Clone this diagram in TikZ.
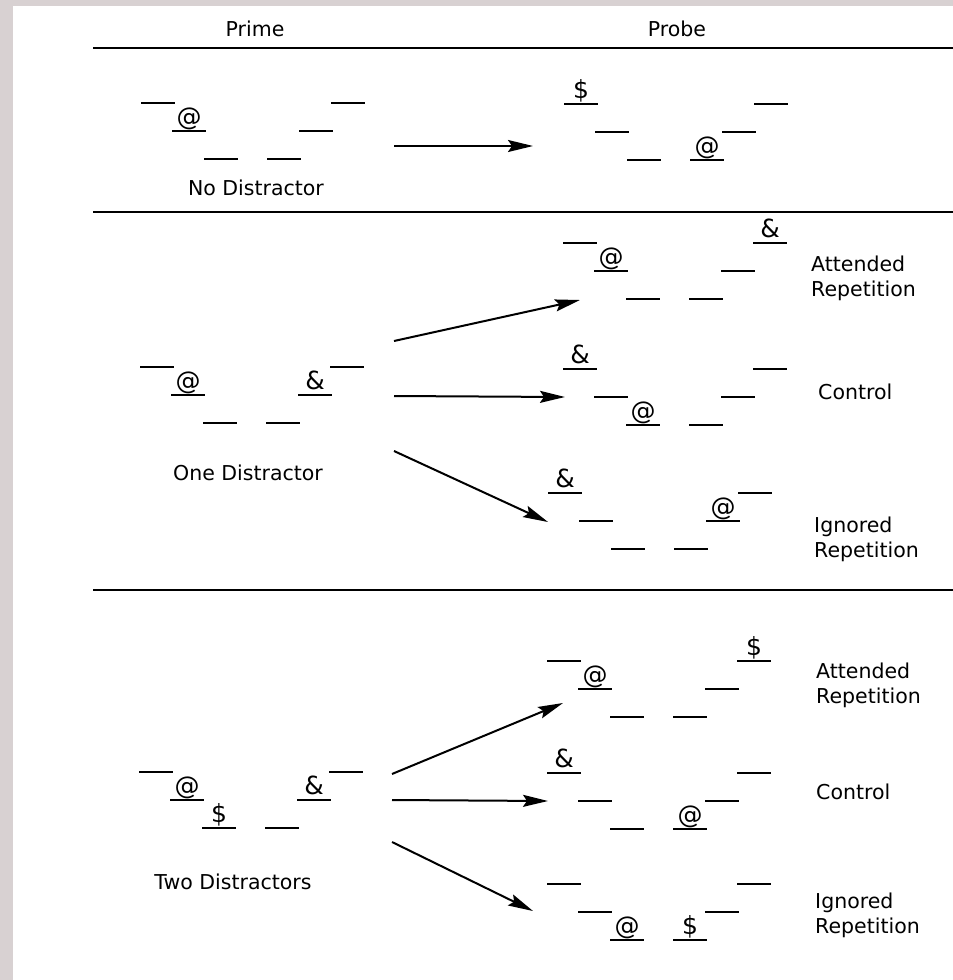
\documentclass[tikz,border=0pt]{standalone}
\usepackage{fontspec}
\setmainfont{DejaVu Sans}
\usetikzlibrary{arrows.meta,positioning}
\definecolor{framegray}{RGB}{216,209,210}

% one stimulus display: name, x and y of the first slot, then the six slot symbols
\newcommand{\display}[9]{%
  \foreach \dx/\dy/\ch [count=\i] in {0/0/{#4},31/28/{#5},63/56/{#6},126/56/{#7},158/28/{#8},190/0/{#9}}{%
    \draw[slotline] (#2+\dx,#3+\dy) -- ++(34,0);
    \node[symb] (#1-\i) at (#2+\dx+17,#3+\dy-6) {\ch};
  }}

\begin{document}
\begin{tikzpicture}[x=1pt,y=-1pt]
        \tikzstyle{slotline}=[line width=2pt]
        \tikzstyle{symb}=[anchor=base, inner sep=0pt, font=\fontsize{25}{25}\selectfont]
        \tikzstyle{lbl}=[inner sep=0pt, font=\fontsize{20.5}{25}\selectfont]
        \tikzstyle{sep}=[line width=1.4pt]
        \tikzstyle{arr}=[line width=2pt, -{Stealth[length=25pt,width=12pt,inset=4pt]}]
        \useasboundingbox (0,0) rectangle (953,980);
        \fill[framegray] (0,0) rectangle (953,980);
        \fill[white] (13,6) rectangle (953,980);
        % headers and separators
        \node[lbl] (prime) at (255,29) {Prime};
        \node[lbl] (probe) at (677,29) {Probe};
        \draw[sep] (93,48) -- (953,48);
        \draw[sep] (93,212) -- (953,212);
        \draw[sep] (93,590) -- (953,590);
        % no distractor
        \display{pa}{141}{103}{}{@}{}{}{}{}
        \display{qa}{564}{104}{\$}{}{}{@}{}{}
        \node[lbl] (nodis) at (256,188) {No Distractor};
        \coordinate (a1s) at (394,146);
        \coordinate (a1e) at (533,146);
        \draw[arr] (a1s) -- (a1e);
        % one distractor
        \display{pb}{140}{367}{}{@}{}{}{\&}{}
        \display{qb1}{563}{243}{}{@}{}{}{}{\&}
        \display{qb2}{563}{369}{\&}{}{@}{}{}{}
        \display{qb3}{548}{493}{\&}{}{}{}{@}{}
        \node[lbl] (onedis) at (248,473) {One Distractor};
        \node[lbl, anchor=west, align=left] (att1) at (811,278) {Attended\\Repetition};
        \node[lbl, anchor=west] (con1) at (818,392) {Control};
        \node[lbl, anchor=west, align=left] (ign1) at (814,539) {Ignored\\Repetition};
        \coordinate (b1s) at (394,341);
        \coordinate (b1e) at (580,300);
        \coordinate (b2s) at (394,396);
        \coordinate (b2e) at (565,397);
        \coordinate (b3s) at (394,451);
        \coordinate (b3e) at (548,522);
        \draw[arr] (b1s) -- (b1e);
        \draw[arr] (b2s) -- (b2e);
        \draw[arr] (b3s) -- (b3e);
        % two distractors
        \display{pc}{139}{772}{}{@}{\$}{}{\&}{}
        \display{qc1}{547}{661}{}{@}{}{}{}{\$}
        \display{qc2}{547}{773}{\&}{}{}{@}{}{}
        \display{qc3}{547}{884}{}{}{@}{\$}{}{}
        \node[lbl] (twodis) at (233,882) {Two Distractors};
        \node[lbl, anchor=west, align=left] (att2) at (816,685) {Attended\\Repetition};
        \node[lbl, anchor=west] (con2) at (816,792) {Control};
        \node[lbl, anchor=west, align=left] (ign2) at (815,915) {Ignored\\Repetition};
        \coordinate (c1s) at (392,774);
        \coordinate (c1e) at (563,703);
        \coordinate (c2s) at (392,800);
        \coordinate (c2e) at (548,801);
        \coordinate (c3s) at (392,842);
        \coordinate (c3e) at (533,911);
        \draw[arr] (c1s) -- (c1e);
        \draw[arr] (c2s) -- (c2e);
        \draw[arr] (c3s) -- (c3e);
      \end{tikzpicture}
\end{document}
